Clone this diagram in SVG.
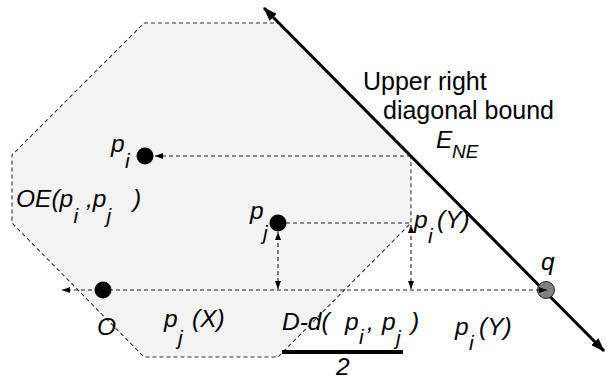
<svg xmlns="http://www.w3.org/2000/svg" width="606" height="379" viewBox="0 0 606 379">
<defs>
<style>
.dash{fill:none;stroke:#222;stroke-width:1.1;stroke-dasharray:4,3}
.oct{fill:#f3f3f3;stroke:#333;stroke-width:1.1;stroke-dasharray:4,3}
.dot{fill:#000}
.t{font-family:"Liberation Sans",Arial,Helvetica,sans-serif;fill:#000}
.m{font-family:"Liberation Sans",Arial,Helvetica,sans-serif;font-style:italic;font-size:24.5px;fill:#000}
.s{font-size:21px}
</style>
<marker id="sa" viewBox="0 0 8 6" refX="8" refY="3" markerWidth="8" markerHeight="6" markerUnits="userSpaceOnUse" orient="auto-start-reverse">
<path d="M0,0 L8,3 L0,6 z" fill="#000"/>
</marker>
<marker id="ba" viewBox="0 0 14 10" refX="13" refY="5" markerWidth="14" markerHeight="10" markerUnits="userSpaceOnUse" orient="auto-start-reverse">
<path d="M0,0 L14,5 L0,10 z" fill="#000"/>
</marker>
</defs>
<g id="region">
<polygon class="oct" points="144,23 279,23 411,155 411,223 278,357 144,357 12,223 12,155"/>
</g>
<g id="connectors">
<line class="dash" x1="411" y1="156" x2="155" y2="156" marker-end="url(#sa)"/>
<line class="dash" x1="286" y1="223" x2="411" y2="223"/>
<line class="dash" x1="278" y1="289" x2="278" y2="232" marker-start="url(#sa)" marker-end="url(#sa)"/>
<line class="dash" x1="411" y1="289" x2="411" y2="225" marker-start="url(#sa)" marker-end="url(#sa)"/>
<line class="dash" x1="547" y1="290" x2="62" y2="290" marker-start="url(#sa)" marker-end="url(#sa)"/>
<line x1="264" y1="8" x2="604" y2="351" stroke="#000" stroke-width="3" marker-start="url(#ba)" marker-end="url(#ba)"/>
</g>
<g id="pi">
<circle class="dot" cx="145" cy="156" r="8.5"/>
<text class="m" x="111" y="152">p<tspan class="s" x="125" y="168">i</tspan></text>
</g>
<g id="pj">
<circle class="dot" cx="278" cy="223" r="8.5"/>
<text class="m" x="250" y="219">p<tspan class="s" x="263" y="240">j</tspan></text>
</g>
<g id="O">
<circle class="dot" cx="103" cy="290" r="8.5"/>
<text class="m" x="97" y="335">O</text>
</g>
<g id="q">
<circle cx="546" cy="290" r="8.5" fill="#808080" stroke="#222" stroke-width="1"/>
<line class="dash" x1="538" y1="290" x2="547" y2="290" marker-end="url(#sa)"/>
<text class="m" x="541" y="270">q</text>
</g>
<g id="labels">
<text class="t" x="363" y="90" font-size="25">Upper right</text>
<text class="t" x="383" y="119" font-size="25">diagonal bound</text>
<text class="m" x="436" y="148" font-size="23">E<tspan x="452" y="158" font-size="19">NE</tspan></text>
<text class="m" x="16" y="207">OE(p<tspan class="s" x="73.5" y="223">i</tspan><tspan x="86" y="207">,p</tspan><tspan class="s" x="106.5" y="223">j</tspan><tspan x="133" y="207">)</tspan></text>
<text class="m" x="414" y="228">p<tspan class="s" x="428" y="243">i</tspan><tspan x="437" y="228">(Y)</tspan></text>
<text class="m" x="164" y="327">p<tspan class="s" x="178" y="345">j</tspan><tspan x="192" y="327">(X)</tspan></text>
<text class="m" x="282" y="330">D-d(<tspan x="345" y="330">p</tspan><tspan class="s" x="359" y="344">i</tspan><tspan x="367" y="330">,</tspan><tspan x="382" y="330">p</tspan><tspan class="s" x="396" y="345">j</tspan><tspan x="411" y="330">)</tspan></text>
<rect x="282" y="350" width="121" height="4" fill="#000"/>
<text class="m" x="336" y="375">2</text>
<text class="m" x="455" y="335">p<tspan class="s" x="469" y="350">i</tspan><tspan x="479" y="335">(Y)</tspan></text>
</g>
</svg>
